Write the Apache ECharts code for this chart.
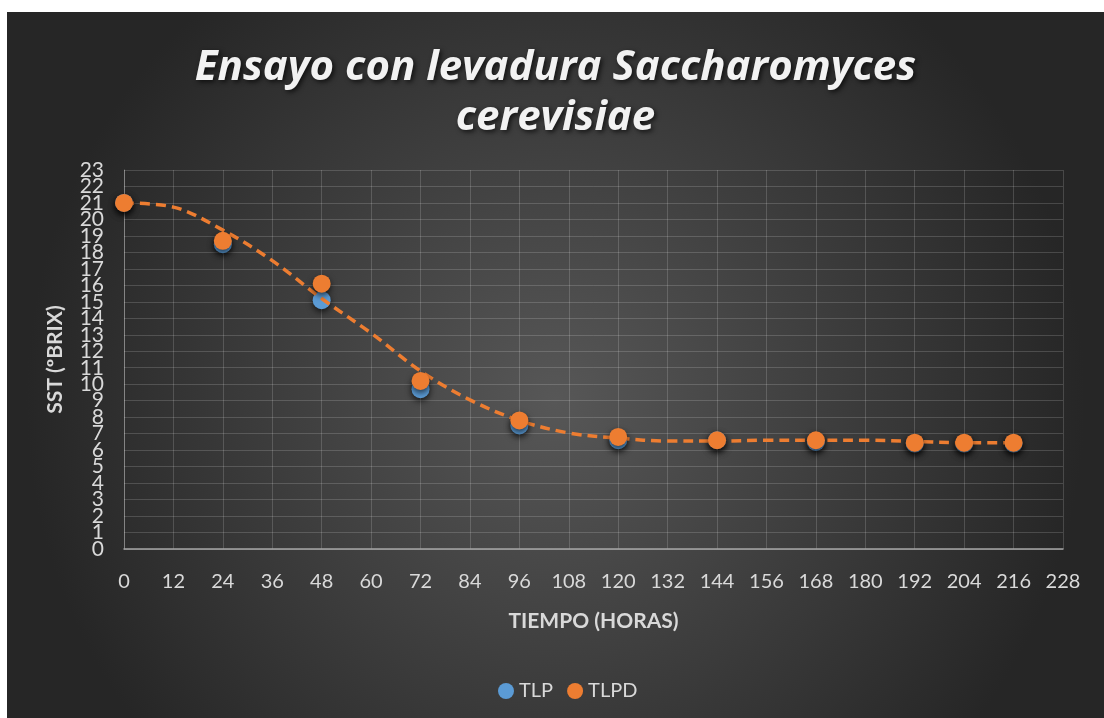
<!DOCTYPE html>
<html>
  <head>
    <meta charset="utf-8" />
    <title></title>
    <style>
      body {
        margin: 0;
        padding: 0;
        background: #fff;
      }
      #chart {
        position: absolute;
        left: 7px;
        top: 12px;
        width: 1097px;
        height: 706px;
      }
    </style>
    <script src="https://cdn.jsdelivr.net/npm/echarts@6/dist/echarts.min.js"></script>
  </head>
  <body>
    <div id="chart"></div>
  </body>
  <script>
    // datos
    const horas = [0, 24, 48, 72, 96, 120, 144, 168, 192, 204, 216];
    const tlp = [21, 18.5, 15.1, 9.7, 7.5, 6.6, 6.6, 6.5, 6.4, 6.4, 6.4];
    const tlpd = [21, 18.7, 16.1, 10.2, 7.8, 6.8, 6.6, 6.6, 6.45, 6.45, 6.45];
    // linea de tendencia (polinomica) leida cada 12 h
    const tendHoras = [0, 12, 24, 36, 48, 60, 72, 84, 96, 108, 120, 132, 144, 156, 168, 180, 192, 204, 216];
    const tendValor = [21, 20.75, 19.35, 17.5, 15.2, 13.1, 10.8, 9.05, 7.8, 7.04, 6.73, 6.55, 6.55, 6.6, 6.6, 6.6, 6.53, 6.45, 6.45];
    const yMin = 0;
    const yMax = 23;

    const pares = (xs, ys) => xs.map((x, i) => [x, ys[i]]);
    const gris = "#d9d9d9";
    const fuente = "Lato";

    const marca = (color) => ({
      color: color,
      opacity: 1,
      shadowColor: "rgba(0,0,0,0.65)",
      shadowBlur: 6,
      shadowOffsetY: 3,
    });

    // las etiquetas del eje Y estan muy juntas: se reparten en dos ejes
    // para que ECharts no oculte ninguna
    const ejeY = (extremos) => ({
      type: "value",
      position: "left",
      min: yMin,
      max: yMax,
      interval: 1,
      axisTick: { show: false },
      axisLabel: {
        color: gris,
        fontFamily: fuente,
        fontSize: 21,
        margin: 20,
        hideOverlap: false,
        formatter: (v) => {
          const esExtremo = v === yMin || v === yMax;
          return esExtremo === extremos ? String(v) : "";
        },
      },
    });

    const option = {
      backgroundColor: {
        type: "radial",
        x: 0.5,
        y: 0.55,
        r: 0.75,
        colorStops: [
          { offset: 0, color: "#575757" },
          { offset: 1, color: "#262626" },
        ],
      },
      title: {
        text: "Ensayo con levadura Saccharomyces\ncerevisiae",
        left: "center",
        top: 26,
        textStyle: {
          color: "#f2f2f2",
          fontFamily: "Open Sans",
          fontStyle: "italic",
          fontWeight: "bold",
          fontSize: 42,
          lineHeight: 50,
          textShadowColor: "rgba(0,0,0,0.7)",
          textShadowBlur: 5,
          textShadowOffsetX: 2,
          textShadowOffsetY: 2,
        },
      },
      legend: {
        data: ["TLP", "TLPD"],
        top: 664,
        left: 486,
        icon: "circle",
        itemWidth: 16,
        itemHeight: 16,
        itemGap: 14,
        textStyle: { color: gris, fontFamily: fuente, fontSize: 20 },
      },
      grid: { left: 117, right: 41, top: 158, bottom: 169 },
      xAxis: {
        type: "value",
        min: 0,
        max: 228,
        interval: 12,
        name: "TIEMPO (HORAS)",
        nameLocation: "middle",
        nameGap: 62,
        nameTextStyle: { color: gris, fontFamily: fuente, fontWeight: "bold", fontSize: 21 },
        axisLine: { show: true, lineStyle: { color: "#a6a6a6", width: 1.5 } },
        axisTick: { show: false },
        axisLabel: { color: gris, fontFamily: fuente, fontSize: 20, margin: 23 },
        splitLine: { show: true, lineStyle: { color: "rgba(255,255,255,0.16)" } },
      },
      yAxis: [
        Object.assign(ejeY(false), {
          name: "SST (ºBRIX)",
          nameLocation: "middle",
          nameGap: 58,
          nameTextStyle: { color: gris, fontFamily: fuente, fontWeight: "bold", fontSize: 21 },
          axisLine: { show: true, lineStyle: { color: "rgba(255,255,255,0.3)" } },
          splitLine: { show: true, lineStyle: { color: "rgba(255,255,255,0.16)" } },
        }),
        Object.assign(ejeY(true), {
          axisLine: { show: false },
          splitLine: { show: false },
        }),
      ],
      series: [
        {
          name: "TLP",
          type: "scatter",
          symbolSize: 18,
          itemStyle: marca("#5b9bd5"),
          data: pares(horas, tlp),
          z: 2,
        },
        {
          name: "Tendencia",
          type: "line",
          smooth: 0.35,
          showSymbol: false,
          symbol: "none",
          lineStyle: { color: "#ed7d31", width: 3.5, type: [10, 6] },
          data: pares(tendHoras, tendValor),
          z: 3,
        },
        {
          name: "TLPD",
          type: "scatter",
          symbolSize: 18,
          itemStyle: marca("#ed7d31"),
          data: pares(horas, tlpd),
          z: 4,
        },
      ],
    };

    const chart = echarts.init(document.getElementById("chart"));
    chart.setOption(option);
  </script>
</html>
